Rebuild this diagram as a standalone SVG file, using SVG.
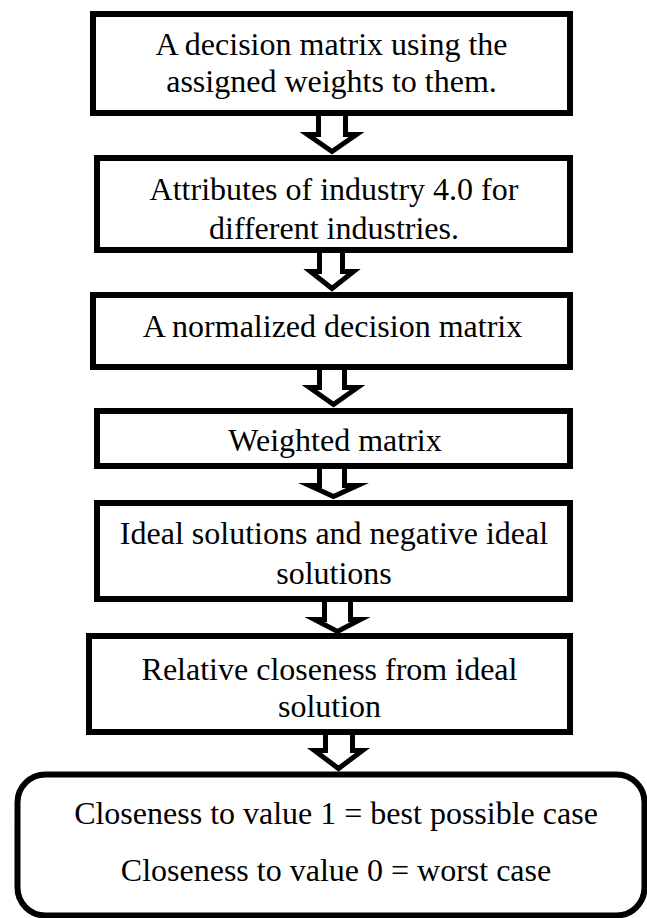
<svg xmlns="http://www.w3.org/2000/svg" width="647" height="918" viewBox="0 0 647 918">
  <style>
    .box { fill: #ffffff; stroke: #000000; stroke-width: 6; }
    .arrow { fill: #ffffff; stroke: #000000; stroke-width: 5; stroke-linejoin: miter; stroke-miterlimit: 10; }
    .label { font-family: "Liberation Serif", "Times New Roman", Times, serif; font-size: 32px; fill: #000000; text-anchor: middle; }
  </style>
  <rect x="0" y="0" width="647" height="918" fill="#ffffff"/>

  <!-- hollow block arrows between the steps -->
  <g id="connectors">
    <path class="arrow" d="M318.5,113 L318.5,134.5 L307.5,134.5 L332,151.5 L356.5,134.5 L345.5,134.5 L345.5,113"/>
    <path class="arrow" d="M319.5,250 L319.5,271.5 L310.5,271.5 L332,288.5 L353.5,271.5 L342.5,271.5 L342.5,250"/>
    <path class="arrow" d="M319.5,367 L319.5,387.5 L309.5,387.5 L333.5,404.5 L357.5,387.5 L344.5,387.5 L344.5,367"/>
    <path class="arrow" d="M319.5,466 L319.5,485.5 L309.5,485.5 L333.5,496.5 L357.5,485.5 L344.5,485.5 L344.5,466"/>
    <path class="arrow" d="M324.5,599 L324.5,619.5 L314.5,619.5 L337.5,631.5 L360.5,619.5 L350.5,619.5 L350.5,599"/>
    <path class="arrow" d="M325.5,732 L325.5,750.5 L314.5,750.5 L338.5,768.5 L362.5,750.5 L352.5,750.5 L352.5,732"/>
  </g>

  <g id="step1">
    <rect class="box" x="93" y="14" width="477" height="99"/>
    <text class="label" x="331.5" y="55">A decision matrix using the</text>
    <text class="label" x="331.5" y="92">assigned weights to them.</text>
  </g>

  <g id="step2">
    <rect class="box" x="97" y="158" width="473" height="92"/>
    <text class="label" x="334" y="200">Attributes of industry 4.0 for</text>
    <text class="label" x="334" y="239">different industries.</text>
  </g>

  <g id="step3">
    <rect class="box" x="93" y="295" width="477" height="72"/>
    <text class="label" x="332.5" y="337">A normalized decision matrix</text>
  </g>

  <g id="step4">
    <rect class="box" x="97" y="411" width="473" height="55"/>
    <text class="label" x="335" y="451">Weighted matrix</text>
  </g>

  <g id="step5">
    <rect class="box" x="97" y="503" width="473" height="96"/>
    <text class="label" x="334" y="544">Ideal solutions and negative ideal</text>
    <text class="label" x="334" y="584">solutions</text>
  </g>

  <g id="step6">
    <rect class="box" x="89" y="636" width="481" height="96"/>
    <text class="label" x="329.5" y="680">Relative closeness from ideal</text>
    <text class="label" x="329.5" y="717">solution</text>
  </g>

  <g id="result">
    <rect class="box" x="17.5" y="774.5" width="627" height="141" rx="28" ry="28" stroke-width="5"/>
    <text class="label" x="336" y="824">Closeness to value 1 = best possible case</text>
    <text class="label" x="336" y="881">Closeness to value 0 = worst case</text>
  </g>
</svg>
